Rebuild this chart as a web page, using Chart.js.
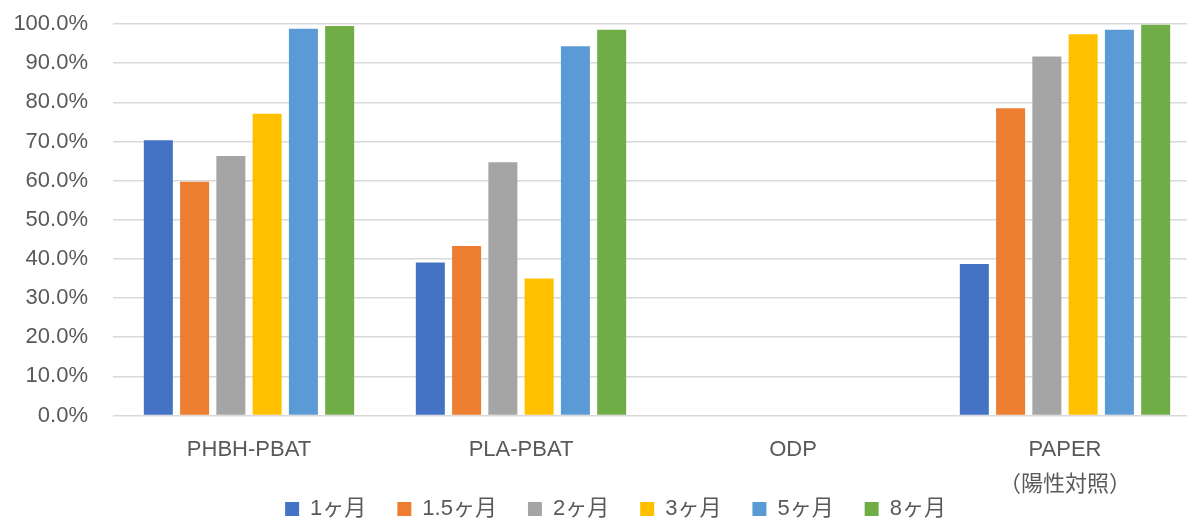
<!DOCTYPE html>
<html>
<head>
<meta charset="utf-8">
<script src="https://cdn.jsdelivr.net/npm/chart.js@4.4.1/dist/chart.umd.min.js"></script>
<style>
html,body{margin:0;padding:0;background:#fff;overflow:hidden;}
#wrap{position:relative;width:1231px;height:530px;}
</style>
</head>
<body>
<div id="wrap"><canvas id="c"></canvas></div>
<script>
const categories = ['PHBH-PBAT', 'PLA-PBAT', 'ODP', ['PAPER', '（陽性対照）']];
const seriesNames = ['1ヶ月', '1.5ヶ月', '2ヶ月', '3ヶ月', '5ヶ月', '8ヶ月'];
const m1   = [70.3, 39.1, 0, 38.7];
const m1_5 = [59.7, 43.3, 0, 78.5];
const m2   = [66.3, 64.7, 0, 91.7];
const m3   = [77.1, 35.0, 0, 97.4];
const m5   = [98.8, 94.3, 0, 98.5];
const m8   = [99.5, 98.5, 0, 99.8];
const colors = ['#4472C4', '#ED7D31', '#A5A5A5', '#FFC000', '#5B9BD5', '#70AD47'];
const yTicks = [0, 10, 20, 30, 40, 50, 60, 70, 80, 90, 100];

const seriesValues = [m1, m1_5, m2, m3, m5, m8];
const FONT = "'Liberation Sans', 'Noto Sans CJK JP', sans-serif";
const TXT = '#595959';

new Chart(document.getElementById('c'), {
  type: 'bar',
  data: {
    labels: categories,
    datasets: seriesNames.map((n, i) => ({
      label: n,
      data: seriesValues[i],
      backgroundColor: colors[i],
      borderWidth: 0,
      categoryPercentage: 0.8,
      barPercentage: 0.8
    }))
  },
  options: {
    responsive: true,
    maintainAspectRatio: false,
    animation: false,
    layout: { padding: { top: 24, left: 0, right: 0, bottom: 0 } },
    plugins: {
      legend: {
        position: 'bottom',
        labels: {
          boxWidth: 14, boxHeight: 14, padding: 31,
          color: TXT,
          font: { family: FONT, size: 22 }
        }
      },
      tooltip: { enabled: false }
    },
    scales: {
      x: {
        afterFit: (s) => { s.height = 51.5; s._computeLabelArea = () => undefined; },
        grid: { display: false, drawTicks: false },
        border: { display: false },
        ticks: {
          color: TXT, padding: 16.4, maxRotation: 0, autoSkip: false,
          font: { family: FONT, size: 22, lineHeight: 1.6 }
        }
      },
      y: {
        min: 0, max: 100,
        afterBuildTicks: (s) => { s.ticks = yTicks.map(v => ({ value: v })); },
        afterFit: (s) => { s.width = 113; s.paddingTop = 13; s.paddingBottom = 13; },
        grid: { color: '#d9d9d9', lineWidth: 1.5, drawTicks: false },
        border: { display: false },
        ticks: {
          color: TXT, padding: 25,
          font: { family: FONT, size: 22 },
          callback: (v) => v.toFixed(1) + '%'
        }
      },
      pad: {
        position: 'right',
        display: true,
        grid: { display: false },
        border: { display: false },
        ticks: { display: false },
        afterFit: (s) => { s.width = 30; }
      }
    }
  }
});
</script>
</body>
</html>
